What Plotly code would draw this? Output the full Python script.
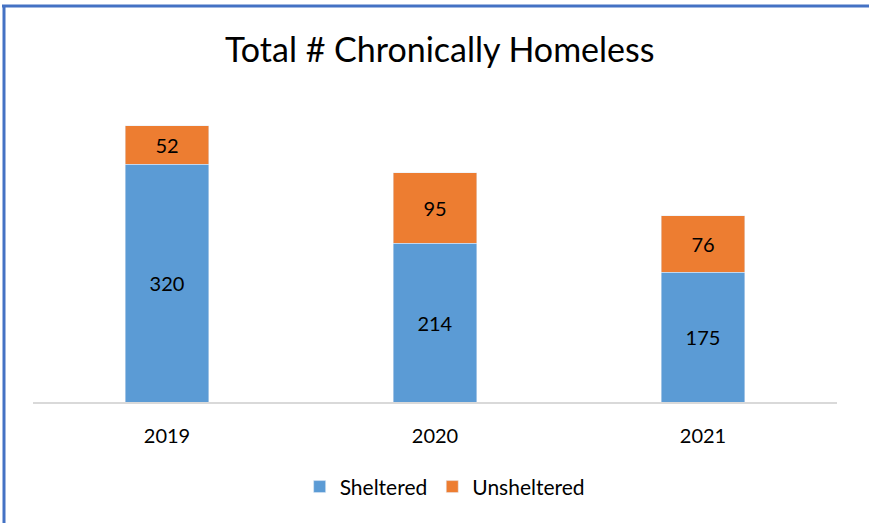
import plotly.graph_objects as go

years = ["2019", "2020", "2021"]
sheltered = [320, 214, 175]
unsheltered = [52, 95, 76]

FONT = "Lato, 'Open Sans', sans-serif"

fig = go.Figure()
fig.add_trace(go.Bar(
    name="Sheltered", x=years, y=sheltered, marker_color="#5B9BD5",
    text=sheltered, textposition="inside", insidetextanchor="middle",
    textfont=dict(size=20, color="#000000", family=FONT),
))
fig.add_trace(go.Bar(
    name="Unsheltered", x=years, y=unsheltered, marker_color="#ED7D31",
    text=unsheltered, textposition="inside", insidetextanchor="middle",
    textfont=dict(size=20, color="#000000", family=FONT),
))

fig.update_layout(
    barmode="stack",
    bargap=0.687,
    width=869, height=523,
    margin=dict(l=33, r=32, t=105, b=121),
    paper_bgcolor="white", plot_bgcolor="white",
    font=dict(family=FONT, color="#000000"),
    title=dict(text="Total # Chronically Homeless", x=0.506, xanchor="center",
               y=1 - 50 / 523, yanchor="middle", yref="container",
               font=dict(size=34, family=FONT, color="#000000")),
    legend=dict(orientation="h", x=0.512, xanchor="center", y=-0.286, yanchor="middle",
                font=dict(size=21, family=FONT), traceorder="normal",
                itemwidth=30),
    showlegend=True,
    uniformtext=dict(minsize=10, mode="show"),
)
fig.update_xaxes(showline=True, linecolor="#D9D9D9", linewidth=2, ticks="",
                 tickfont=dict(size=20, family=FONT), ticklabelstandoff=15,
                 showgrid=False)
fig.update_yaxes(range=[0, 400], visible=False, showgrid=False)

# Frame lines (top and left), in pixel offsets from the plot-area origin
fig.add_shape(type="line", xref="paper", yref="paper", xsizemode="pixel", ysizemode="pixel",
              xanchor=0, yanchor=0, x0=-29, x1=-29, y0=-140, y1=396,
              line=dict(color="#4472C4", width=3))
fig.add_shape(type="line", xref="paper", yref="paper", xsizemode="pixel", ysizemode="pixel",
              xanchor=0, yanchor=0, x0=-31, x1=850, y0=396, y1=396,
              line=dict(color="#4472C4", width=3))

fig.write_html("out.html")
